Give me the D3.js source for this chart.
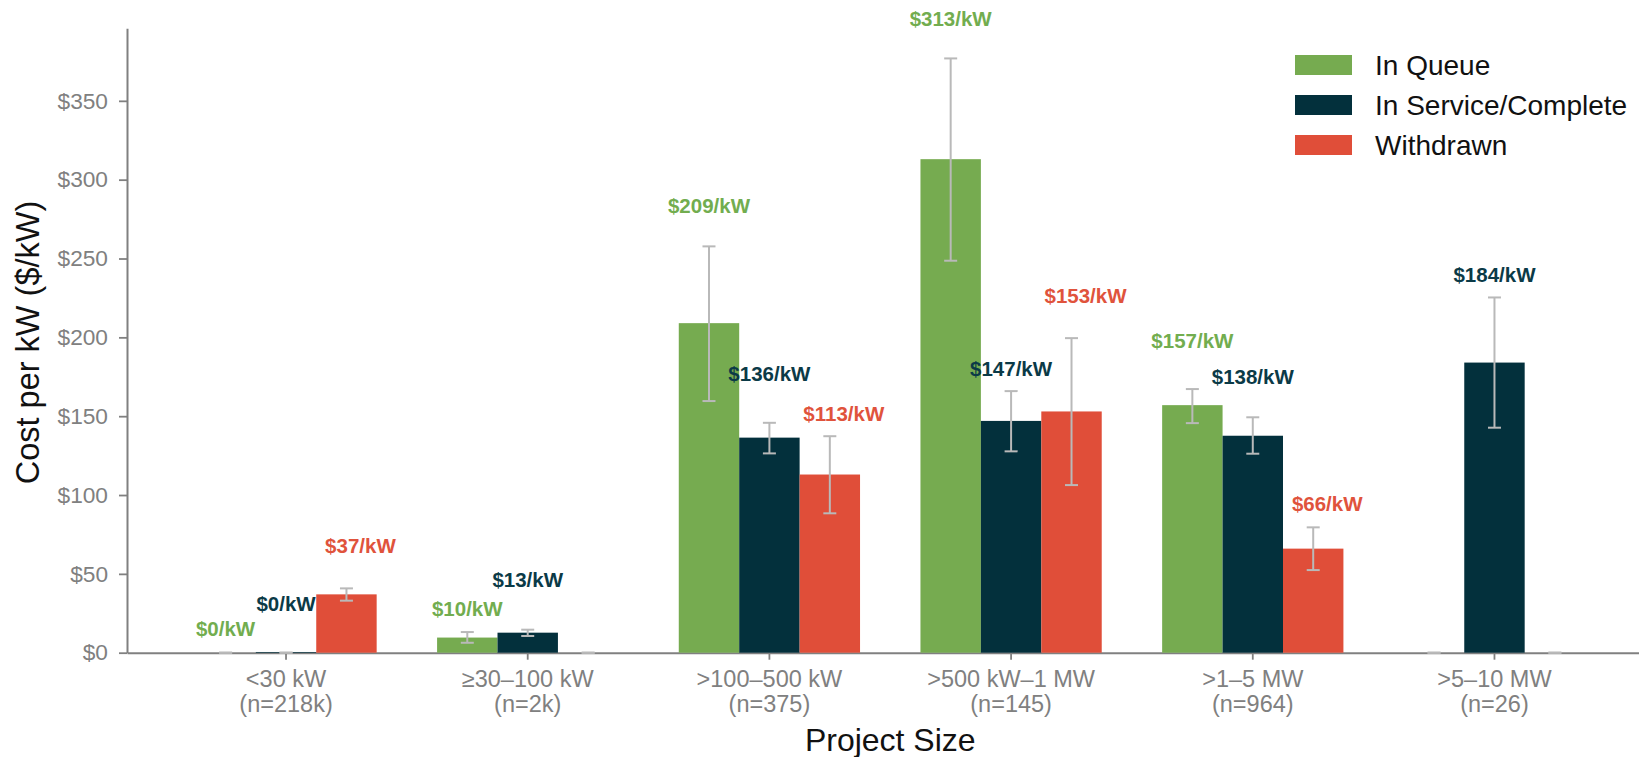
<!DOCTYPE html>
<html>
<head>
<meta charset="utf-8">
<script src="https://cdn.jsdelivr.net/npm/d3@7"></script>
<style>
  html, body { margin: 0; padding: 0; background: #ffffff; }
  svg { display: block; font-family: "Liberation Sans", Arial, Helvetica, sans-serif; }
</style>
</head>
<body>
<svg id="chart" width="1639" height="757"></svg>
<script>
// ---------------- DATA ----------------
const categories = ["<30 kW", "≥30–100 kW", ">100–500 kW", ">500 kW–1 MW", ">1–5 MW", ">5–10 MW"];
const counts = ["(n=218k)", "(n=2k)", "(n=375)", "(n=145)", "(n=964)", "(n=26)"];
const seriesNames = ["In Queue", "In Service/Complete", "Withdrawn"];

const inQueue   = [0,    9.6,  209,   313,   157,   null];
const inService = [0.45, 12.7, 136.4, 147,   137.6, 184];
const withdrawn = [37,   null, 113,   153,   66,    null];

const inQueueLo   = [0,    6.3,  159.6, 248.6, 145.6, 0];
const inQueueHi   = [0,    13.1, 257.7, 376.9, 167.2, 0];
const inServiceLo = [0,    10.6, 126.4, 127.7, 126.2, 142.7];
const inServiceHi = [0,    14.6, 145.8, 165.9, 149.3, 225.3];
const withdrawnLo = [33,   0,    88.4,  106.3, 52.4,  0];
const withdrawnHi = [40.8, 0,    137.3, 199.5, 79.5,  0];

const yTicks = [0, 50, 100, 150, 200, 250, 300, 350];
const yMax = 396;

// ---------------- LAYOUT / STYLE ----------------
const colors = ["#76ab50", "#03303c", "#e04e39"];
const labelColors = ["#72ad4f", "#0b3a47", "#e0533c"];
const labelLiftPx = [
  [17, 16, 33.6, 32.6, 40.7, 0],
  [42, 43, 41.8, 15.3, 33, 15.6],
  [35, 0, 15.5, 34.7, 16.2, 0]
];
const labelDxPx = [0, 0, 14];
const W = 1639, H = 757;
const plotLeft = 127, plotBottom = 652.7, plotTop = 28.3, plotRightExt = 1653.5;
const axisGrey = "#808080";
const errGrey = "#b9b9b9";

const values = [inQueue, inService, withdrawn];
const lows = [inQueueLo, inServiceLo, withdrawnLo];
const highs = [inQueueHi, inServiceHi, withdrawnHi];

const svg = d3.select("#chart");
svg.append("rect").attr("width", W).attr("height", H).attr("fill", "#fff");

const x = d3.scaleBand().domain(categories).range([plotLeft, plotRightExt])
  .paddingInner(0).paddingOuter(0.158);
const step = x.bandwidth();
const xs = d3.scaleBand().domain(seriesNames).range([0.125 * step, 0.875 * step]).padding(0);
const y = d3.scaleLinear().domain([0, yMax]).range([plotBottom, plotTop]);

// ---------- axes ----------
const yAxis = svg.append("g").attr("transform", `translate(${plotLeft},0)`)
  .call(d3.axisLeft(y).tickValues(yTicks).tickFormat(d => "$" + d).tickSize(8).tickSizeOuter(0).tickPadding(11));
yAxis.select(".domain").attr("stroke", axisGrey).attr("stroke-width", 2);
yAxis.selectAll(".tick line").attr("stroke", axisGrey).attr("stroke-width", 1.8);
yAxis.selectAll(".tick text").attr("fill", axisGrey).attr("font-size", 22.7)
  .attr("font-family", "'Liberation Sans', Arial, sans-serif");

const xAxis = svg.append("g").attr("transform", `translate(0,${plotBottom})`)
  .call(d3.axisBottom(x).tickSize(7).tickSizeOuter(0).tickFormat(""));
xAxis.select(".domain").attr("stroke", axisGrey).attr("stroke-width", 2);
xAxis.selectAll(".tick line").attr("stroke", axisGrey).attr("stroke-width", 1.8);
xAxis.selectAll(".tick").each(function(d) {
  const t = d3.select(this).append("text")
    .attr("fill", axisGrey).attr("font-size", 23.5).attr("text-anchor", "middle")
    .attr("font-family", "'Liberation Sans', Arial, sans-serif")
    .attr("y", 34);
  t.append("tspan").attr("x", 0).text(d);
  t.append("tspan").attr("x", 0).attr("dy", 25).text(counts[categories.indexOf(d)]);
});

// ---------- bars ----------
const gBars = svg.append("g");
seriesNames.forEach((s, si) => {
  const data = categories.map((c, ci) => ({c, ci, v: values[si][ci]}));
  gBars.selectAll(null).data(data.filter(d => d.v !== null)).enter().append("rect")
    .attr("x", d => x(d.c) + xs(s))
    .attr("width", xs.bandwidth())
    .attr("y", d => y(d.v))
    .attr("height", d => y(0) - y(d.v))
    .attr("fill", colors[si]);
});

// ---------- error bars ----------
const gErr = svg.append("g");
seriesNames.forEach((s, si) => {
  const data = categories.map((c, ci) => ({c, ci, lo: lows[si][ci], hi: highs[si][ci]}));
  const cx = d => x(d.c) + xs(s) + xs.bandwidth() / 2;
  gErr.selectAll(null).data(data).enter().append("line")
    .attr("x1", cx).attr("x2", cx)
    .attr("y1", d => y(d.lo)).attr("y2", d => y(d.hi))
    .attr("stroke", errGrey).attr("stroke-width", 2);
  ["lo", "hi"].forEach(k => {
    gErr.selectAll(null).data(data).enter().append("line")
      .attr("x1", d => cx(d) - 6.5).attr("x2", d => cx(d) + 6.5)
      .attr("y1", d => y(d[k])).attr("y2", d => y(d[k]))
      .attr("stroke", errGrey).attr("stroke-width", 2);
  });
});

// ---------- value labels ----------
const gLab = svg.append("g");
seriesNames.forEach((s, si) => {
  const data = categories.map((c, ci) => ({c, ci, v: values[si][ci], hi: highs[si][ci]}))
    .filter(d => d.v !== null);
  gLab.selectAll(null).data(data).enter().append("text")
    .attr("x", d => x(d.c) + xs(s) + xs.bandwidth() / 2 + labelDxPx[si])
    .attr("y", d => y(d.hi) - labelLiftPx[si][d.ci])
    .attr("text-anchor", "middle")
    .attr("font-weight", "bold")
    .attr("font-size", 20.5)
    .attr("fill", labelColors[si])
    .text(d => "$" + Math.round(d.v) + "/kW");
});

// ---------- axis titles ----------
svg.append("text")
  .attr("x", (plotLeft + plotRightExt) / 2).attr("y", 750.5)
  .attr("text-anchor", "middle").attr("font-size", 32).attr("fill", "#111")
  .text("Project Size");
svg.append("text")
  .attr("transform", `translate(39,${(plotTop + plotBottom) / 2 + 2}) rotate(-90)`)
  .attr("text-anchor", "middle").attr("font-size", 32.5).attr("fill", "#111")
  .text("Cost per kW ($/kW)");

// ---------- legend ----------
const legend = svg.append("g").attr("transform", "translate(1295,55)");
seriesNames.forEach((s, si) => {
  const g = legend.append("g").attr("transform", `translate(0,${si * 40})`);
  g.append("rect").attr("width", 57).attr("height", 20).attr("fill", colors[si]);
  g.append("text").attr("x", 80).attr("y", 10).attr("dy", "0.35em")
    .attr("font-size", 28).attr("fill", "#111").text(s);
});
</script>
</body>
</html>
